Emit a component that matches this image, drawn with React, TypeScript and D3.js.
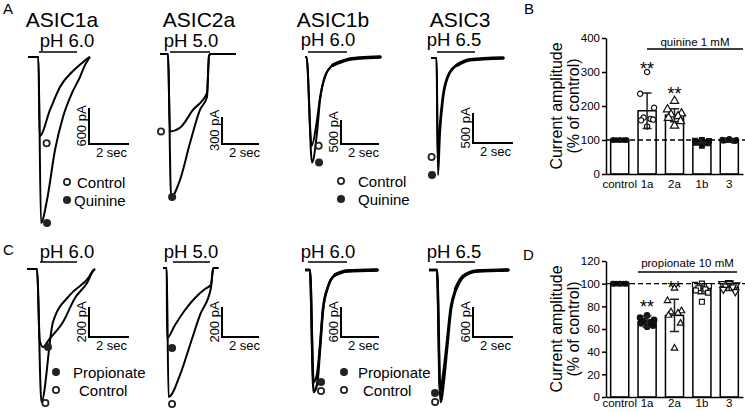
import { useEffect, useRef } from 'react';
import * as d3 from 'd3';

type Pt = [number, number];
const FONT = '"Liberation Sans", Arial, Helvetica, sans-serif';

// ---------- summary data (% of control) ----------
const categories = ['control', '1a', '2a', '1b', '3'];

const quinineMean = [100, 186, 173, 95, 99];
const quinineSD = [0, 52, 19, 4, 2];
const quininePoints = [
  [100, 100, 100, 100, 100, 100, 100, 100],
  [300, 236, 195, 166, 162, 158, 160, 140],
  [215, 190, 178, 175, 170, 165, 155, 142],
  [100, 98, 97, 95, 93, 92, 90, 83],
  [103, 101, 100, 99, 98, 98, 97, 100],
];
const quinineStars = [null, 291, 218, null, null];

const propMean = [100, 66.5, 72, 95.5, 97];
const propSD = [0, 5, 14.3, 4.5, 3];
const propPoints = [
  [100, 100, 100, 100, 100, 100, 100, 100],
  [72, 70, 68, 67, 66, 65, 63, 62],
  [96, 85, 76, 75, 74, 72, 65, 43],
  [100, 99, 98, 96, 95, 94, 92, 84],
  [101, 100, 99, 98, 97, 95, 93, 100],
];
const propStars = [null, 74, 90.5, null, null];

// ---------- current traces: [time (s), current (pA)] ----------
const a1aControl: Pt[] = [[0, 0], [0.52, 0], [0.58, -1320], [1.1, -883], [1.6, -500], [2.2, -250], [2.7, -100], [3.0, -17], [3.1, 0]];
const a1aQuinine: Pt[] = [[0, 0], [0.52, 0], [0.65, -2767], [0.95, -2383], [1.35, -1550], [1.75, -1000], [2.2, -600], [2.6, -333], [2.85, -133], [3.0, -50], [3.1, 0]];
const a2aControl: Pt[] = [[0, 0], [0.43, 0], [0.54, -860], [1.08, -820], [1.78, -622], [2.54, -433], [2.65, -20], [2.72, 0], [4.1, 0]];
const a2aQuinine: Pt[] = [[0, 0], [0.43, 0], [0.6, -1590], [1.08, -1400], [1.62, -990], [2.16, -620], [2.54, -478], [2.65, -20], [2.72, 0], [4.1, 0]];
const a1bControl: Pt[] = [[0, 0], [0.08, 0], [0.35, -1850], [0.6, -1400], [0.79, -850], [1.05, -400], [1.47, -160], [2.2, -55], [2.9, -20], [3.95, 0]];
const a1bQuinine: Pt[] = [[0, 0], [0.08, 0], [0.37, -2200], [0.63, -1580], [0.79, -900], [1.05, -420], [1.47, -170], [2.2, -60], [2.9, -20], [3.95, 0]];
const a3Control: Pt[] = [[0, 0], [0.28, 0], [0.33, -1650], [0.43, -1150], [0.58, -650], [0.83, -300], [1.3, -110], [1.95, -30], [3.6, 0]];
const a3Quinine: Pt[] = [[0, 0], [0.28, 0], [0.35, -1950], [0.45, -1250], [0.6, -700], [0.85, -320], [1.3, -120], [1.95, -30], [3.6, 0]];

const c1aControl: Pt[] = [[0, 0], [0.5, 0], [0.72, -887], [1.3, -353], [2.15, -173], [3.1, -53], [3.3, -10], [3.4, 0]];
const c1aProp: Pt[] = [[0, 0], [0.5, 0], [0.64, -480], [0.8, -520], [1.1, -470], [1.8, -353], [2.4, -193], [3.0, -93], [3.3, -15], [3.4, 0]];
const c2aControl: Pt[] = [[0, 0], [0.2, 0], [0.3, -860], [0.92, -713], [1.46, -513], [2.0, -313], [2.59, -133], [2.7, -10], [2.75, 0], [3.0, 0]];
const c2aProp: Pt[] = [[0, 0], [0.2, 0], [0.22, -467], [0.65, -380], [1.19, -280], [1.73, -200], [2.27, -140], [2.59, -113], [2.7, -10], [2.75, 0], [3.0, 0]];
const c1bControl: Pt[] = [[0, 0], [0.26, 0], [0.45, -2440], [0.63, -2300], [0.79, -1600], [0.95, -800], [1.21, -340], [1.58, -100], [2.2, -20], [3.8, 0]];
const c1bProp: Pt[] = [[0, 0], [0.26, 0], [0.45, -2240], [0.63, -2100], [0.79, -1500], [0.95, -760], [1.21, -330], [1.58, -100], [2.2, -20], [3.8, 0]];
const c3Control: Pt[] = [[0, 0], [0.4, 0], [0.58, -2640], [0.75, -2200], [0.9, -1600], [1.1, -800], [1.35, -400], [1.7, -140], [2.4, -20], [3.95, 0]];
const c3Prop: Pt[] = [[0, 0], [0.4, 0], [0.55, -2460], [0.72, -2050], [0.88, -1500], [1.08, -760], [1.33, -380], [1.7, -130], [2.4, -20], [3.95, 0]];

interface TraceCfg {
  x0: number; y0: number; pps: number; ppa: number; width: number; noiseFrom?: number;
  control: Pt[]; drug: Pt[];
  stim: [number, number]; stimY: number;
  title?: string; titleX?: number; ph: string; phX: number; phY: number;
  sbX: number; sbY: number; sbPA: number;
  ctrlOff: [number, number]; drugOff: [number, number];
}

const tracePanels: TraceCfg[] = [
  { x0: 28, y0: 57, pps: 20, ppa: 0.06, width: 2, control: a1aControl, drug: a1aQuinine, stim: [0.55, 2.45], stimY: 52,
    title: 'ASIC1a', titleX: 62, ph: 'pH 6.0', phX: 67, phY: 47, sbX: 89, sbY: 144, sbPA: 600, ctrlOff: [7, 7], drugOff: [6, 0] },
  { x0: 160, y0: 54, pps: 18.5, ppa: 0.09, width: 2, control: a2aControl, drug: a2aQuinine, stim: [0.54, 2.7], stimY: 52,
    title: 'ASIC2a', titleX: 199, ph: 'pH 5.0', phX: 191, phY: 47, sbX: 222, sbY: 144, sbPA: 300, ctrlOff: [-9, 0], drugOff: [1, 0] },
  { x0: 305, y0: 57, pps: 19, ppa: 0.048, width: 2, noiseFrom: 1.3, control: a1bControl, drug: a1bQuinine, stim: [0.16, 2.21], stimY: 52,
    title: 'ASIC1b', titleX: 333, ph: 'pH 6.0', phX: 328, phY: 46, sbX: 341, sbY: 144, sbPA: 500, ctrlOff: [7, 0], drugOff: [7, 0] },
  { x0: 431, y0: 58, pps: 20, ppa: 0.06, width: 2, noiseFrom: 0.95, control: a3Control, drug: a3Quinine, stim: [0.3, 2.2], stimY: 52,
    title: 'ASIC3', titleX: 460, ph: 'pH 6.5', phX: 454, phY: 46, sbX: 473, sbY: 143, sbPA: 500, ctrlOff: [-6, 0], drugOff: [-6, 0] },
  { x0: 27, y0: 269, pps: 20, ppa: 0.15, width: 2, control: c1aControl, drug: c1aProp, stim: [0.65, 2.5], stimY: 262,
    ph: 'pH 6.0', phX: 67, phY: 258, sbX: 89, sbY: 337, sbPA: 200, ctrlOff: [4, 1], drugOff: [5, 0] },
  { x0: 163, y0: 268, pps: 18.5, ppa: 0.15, width: 2, control: c2aControl, drug: c2aProp, stim: [0.54, 2.54], stimY: 262,
    ph: 'pH 5.0', phX: 191, phY: 258, sbX: 222, sbY: 337, sbPA: 200, ctrlOff: [3.5, 7], drugOff: [5, 10] },
  { x0: 305, y0: 270, pps: 19, ppa: 0.05, width: 2.4, noiseFrom: 1.3, control: c1bControl, drug: c1bProp, stim: [0.16, 2.21], stimY: 262,
    ph: 'pH 6.0', phX: 328, phY: 258, sbX: 341, sbY: 337, sbPA: 600, ctrlOff: [7.5, -1], drugOff: [7.5, 0] },
  { x0: 429, y0: 270, pps: 20, ppa: 0.05, width: 2.4, noiseFrom: 1.3, control: c3Control, drug: c3Prop, stim: [0.35, 2.3], stimY: 262,
    ph: 'pH 6.5', phX: 454, phY: 258, sbX: 473, sbY: 337, sbPA: 600, ctrlOff: [-5.5, 0], drugOff: [-5, 0] },
];

function TracePanel({ c }: { c: TraceCfg }) {
  const x = d3.scaleLinear().domain([0, 1]).range([c.x0, c.x0 + c.pps]);
  const y = d3.scaleLinear().domain([0, -1000]).range([c.y0, c.y0 + c.ppa * 1000]);
  const line = d3.line<Pt>().x((d) => x(d[0])).y((d) => y(d[1])).curve(d3.curveMonotoneX);
  const peak = (s: Pt[]) => s.reduce((a, b) => (b[1] < a[1] ? b : a));
  const pc = peak(c.control);
  const pd = peak(c.drug);
  const sbH = y(-c.sbPA) - y(0);
  const sbW = x(2) - x(0);
  const tail = (s: Pt[]) => s.filter((d) => c.noiseFrom != null && d[0] >= c.noiseFrom);
  return (
    <g>
      {c.title && <text x={c.titleX} y={27} textAnchor="middle" fontSize={21}>{c.title}</text>}
      <text x={c.phX} y={c.phY} textAnchor="middle" fontSize={18.5}>{c.ph}</text>
      <line x1={x(c.stim[0])} x2={x(c.stim[1])} y1={c.stimY} y2={c.stimY} stroke="#000" strokeWidth={1.6} />
      <path d={line(c.drug) ?? ''} fill="none" stroke="#000" strokeWidth={c.width} strokeLinejoin="round" />
      <path d={line(c.control) ?? ''} fill="none" stroke="#000" strokeWidth={c.width} strokeLinejoin="round" />
      {c.noiseFrom != null && (
        <path d={line(tail(c.drug)) ?? ''} fill="none" stroke="#000" strokeWidth={3.6} strokeLinecap="round" />
      )}
      <circle cx={x(pc[0]) + c.ctrlOff[0]} cy={y(pc[1]) + c.ctrlOff[1]} r={3.1} fill="#fff" stroke="#222" strokeWidth={1.8} />
      <circle cx={x(pd[0]) + c.drugOff[0]} cy={y(pd[1]) + c.drugOff[1]} r={4} fill="#222" />
      <path d={`M${c.sbX},${c.sbY - sbH}V${c.sbY}H${c.sbX + sbW}`} fill="none" stroke="#000" strokeWidth={2} />
      <text transform={`translate(${c.sbX - 3},${c.sbY - sbH / 2}) rotate(-90)`} textAnchor="middle" fontSize={13}>{`${c.sbPA} pA`}</text>
      <text x={c.sbX + 7} y={c.sbY + 13} fontSize={13}>2 sec</text>
    </g>
  );
}

interface Shape { sym: d3.SymbolType; filled: boolean; size: number; rot?: number }

interface BarCfg {
  means: number[]; sds: number[]; points: number[][]; stars: (number | null)[];
  shapes: Shape[]; yMax: number; yStep: number; top: number; bottom: number; pad: number;
  drug: string; drugY: number; lineY: number; lineX: [number, number]; labelY: number;
}

const jitter = [0, -7, 7, -3.5, 3.5, -6, 6, 0];

function BarPanel({ c }: { c: BarCfg }) {
  const yRef = useRef<SVGGElement>(null);
  const xRef = useRef<SVGGElement>(null);
  const x = d3.scaleBand().domain(categories).range([606, 743]).paddingInner(0.34).paddingOuter(0.17);
  const y = d3.scaleLinear().domain([0, c.yMax]).range([c.bottom, c.top]);

  useEffect(() => {
    const ya = d3.select(yRef.current!);
    ya.call(d3.axisLeft(y).tickValues(d3.range(0, c.yMax + 1, c.yStep)).tickSize(4).tickSizeOuter(0).tickPadding(2) as any);
    ya.attr('font-family', FONT).attr('font-size', 11.5);
    ya.selectAll('path, line').attr('stroke', '#000').attr('stroke-width', 1.5);
    ya.selectAll('text').attr('fill', '#000');
    const xa = d3.select(xRef.current!);
    xa.call(d3.axisBottom(x).tickSize(0).tickPadding(c.pad) as any);
    xa.attr('font-family', FONT).attr('font-size', 11.5);
    xa.selectAll('path').attr('stroke', '#000').attr('stroke-width', 1.5);
    xa.selectAll('text').attr('fill', '#000');
  });

  const sym = d3.symbol();
  return (
    <g>
      {categories.map((cat, i) => {
        const bx = x(cat)!;
        const cx = bx + x.bandwidth() / 2;
        const sh = c.shapes[i];
        const sd = c.sds[i];
        return (
          <g key={cat}>
            <rect x={bx} y={y(c.means[i])} width={x.bandwidth()} height={y(0) - y(c.means[i])} fill="#fff" stroke="#000" strokeWidth={1.5} />
            {c.points[i].map((v, j) => (
              <path key={j} d={sym.type(sh.sym).size(sh.size)() ?? ''}
                transform={`translate(${cx + jitter[j]},${y(v)}) rotate(${sh.rot ?? 0})`}
                fill={sh.filled ? '#111' : '#fff'} stroke="#111" strokeWidth={1.2} />
            ))}
            {sd > 0 && (
              <path d={`M${cx},${y(c.means[i] - sd)}V${y(c.means[i] + sd)}M${cx - 4.5},${y(c.means[i] + sd)}h9M${cx - 4.5},${y(c.means[i] - sd)}h9`}
                stroke="#222" strokeWidth={1.5} fill="none" />
            )}
            {c.stars[i] != null && (
              <text x={cx} y={y(c.stars[i]!)} textAnchor="middle" fontSize={18}>**</text>
            )}
          </g>
        );
      })}
      <line x1={606} x2={745} y1={y(100)} y2={y(100)} stroke="#000" strokeWidth={1.3} strokeDasharray="5,3" />
      <g ref={yRef} transform="translate(606,0)" />
      <g ref={xRef} transform={`translate(0,${c.bottom})`} />
      <text x={(c.lineX[0] + c.lineX[1]) / 2} y={c.drugY} textAnchor="middle" fontSize={11.5}>{c.drug}</text>
      <line x1={c.lineX[0]} x2={c.lineX[1]} y1={c.lineY} y2={c.lineY} stroke="#000" strokeWidth={1.5} />
      <text transform={`translate(562,${c.labelY}) rotate(-90)`} textAnchor="middle" fontSize={16}>Current amplitude</text>
      <text transform={`translate(579,${c.labelY}) rotate(-90)`} textAnchor="middle" fontSize={16}>(% of control)</text>
    </g>
  );
}

const quinineShapes: Shape[] = [
  { sym: d3.symbolCircle, filled: true, size: 16 },
  { sym: d3.symbolCircle, filled: false, size: 22 },
  { sym: d3.symbolTriangle, filled: false, size: 30 },
  { sym: d3.symbolSquare, filled: true, size: 22 },
  { sym: d3.symbolCircle, filled: true, size: 18 },
];
const propShapes: Shape[] = [
  { sym: d3.symbolCircle, filled: true, size: 16 },
  { sym: d3.symbolCircle, filled: true, size: 24 },
  { sym: d3.symbolTriangle, filled: false, size: 18 },
  { sym: d3.symbolSquare, filled: false, size: 24 },
  { sym: d3.symbolTriangle, filled: false, size: 22, rot: 180 },
];

const barB: BarCfg = {
  means: quinineMean, sds: quinineSD, points: quininePoints, stars: quinineStars, shapes: quinineShapes,
  yMax: 400, yStep: 100, top: 38, bottom: 174, pad: 6,
  drug: 'quinine 1 mM', drugY: 46, lineY: 49, lineX: [647, 743], labelY: 106,
};
const barD: BarCfg = {
  means: propMean, sds: propSD, points: propPoints, stars: propStars, shapes: propShapes,
  yMax: 120, yStep: 20, top: 261, bottom: 397, pad: 2,
  drug: 'propionate 10 mM', drugY: 267, lineY: 272, lineX: [638, 737], labelY: 329,
};

function Legend({ x, y, tx, first, second, firstFilled }: { x: number; y: number; tx: [number, number]; first: string; second: string; firstFilled: boolean }) {
  const mark = (cy: number, filled: boolean) =>
    filled ? <circle cx={x} cy={cy} r={4} fill="#222" /> : <circle cx={x} cy={cy} r={3.1} fill="#fff" stroke="#222" strokeWidth={1.8} />;
  return (
    <g fontSize={15}>
      {mark(y, firstFilled)}
      <text x={tx[0]} y={y + 6}>{first}</text>
      {mark(y + 18, !firstFilled)}
      <text x={tx[1]} y={y + 24}>{second}</text>
    </g>
  );
}

export default function App() {
  return (
    <svg width={745} height={412} fontFamily={FONT} style={{ position: 'absolute', left: 0, top: 0, background: '#fff' }}>
      <rect width={745} height={412} fill="#fff" />
      <text x={3} y={14} fontSize={15}>A</text>
      <text x={524} y={14} fontSize={15}>B</text>
      <text x={3} y={255} fontSize={15}>C</text>
      <text x={523} y={260} fontSize={15}>D</text>
      {tracePanels.map((c, i) => <TracePanel key={i} c={c} />)}
      <Legend x={67} y={182} tx={[77, 74]} first="Control" second="Quinine" firstFilled={false} />
      <Legend x={341} y={181} tx={[358, 358]} first="Control" second="Quinine" firstFilled={false} />
      <Legend x={56} y={372} tx={[73, 79]} first="Propionate" second="Control" firstFilled={true} />
      <Legend x={344} y={372} tx={[358, 363]} first="Propionate" second="Control" firstFilled={true} />
      <BarPanel c={barB} />
      <BarPanel c={barD} />
    </svg>
  );
}
